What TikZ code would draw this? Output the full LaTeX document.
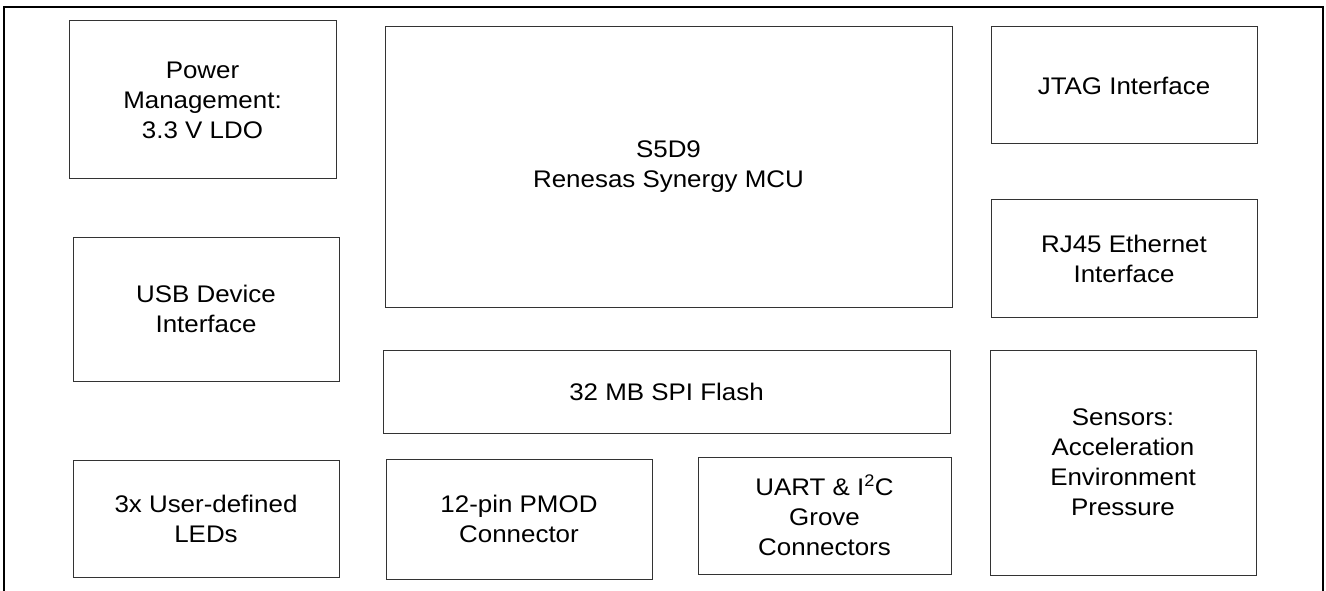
\documentclass[tikz,border=0pt]{standalone}
\usepackage{fontspec}
\setmainfont{Liberation Sans}[FakeStretch=1.08]
\usetikzlibrary{positioning}

\begin{document}
\begin{tikzpicture}[x=1pt,y=-1pt,
	blk/.style={draw=black!80, line width=1pt, inner sep=0pt, outer sep=0pt,
		align=center, font=\fontsize{24}{30}\selectfont},
	frame/.style={draw=black, line width=2pt}]
	\useasboundingbox (0,0) rectangle (1326,591);

	% outer frame, open at the bottom
	\draw[frame] (4,600) -- (4,7) -- (1323,7) -- (1323,600);

	% left column
	\node[blk, minimum width=267pt, minimum height=158pt] (pwr) at (202.5,100)
		{Power\\Management:\\3.3 V LDO};
	\node[blk, minimum width=266pt, minimum height=144pt] (usb) at (206,309)
		{USB Device\\Interface};
	\node[blk, minimum width=266pt, minimum height=117pt] (leds) at (206,518.5)
		{3x User-defined\\LEDs};

	% middle
	\node[blk, minimum width=567pt, minimum height=280pt] (mcu) at (668.5,167)
		{S5D9\\Renesas Synergy MCU};
	\node[blk, minimum width=567pt, minimum height=83pt] (flash) at (666.5,391.5)
		{32 MB SPI Flash};
	\node[blk, minimum width=266pt, minimum height=120pt] (pmod) at (519,519)
		{12-pin PMOD\\Connector};
	\node[blk, minimum width=253pt, minimum height=117pt] (uart) at (824.5,515.5)
		{UART \& I\textsuperscript{2}C\\Grove\\Connectors};

	% right column
	\node[blk, minimum width=266pt, minimum height=117pt] (jtag) at (1124,85.5)
		{JTAG Interface};
	\node[blk, minimum width=266pt, minimum height=117pt] (rj45) at (1124,258.5)
		{RJ45 Ethernet\\Interface};
	\node[blk, minimum width=266pt, minimum height=225pt] (sens) at (1123,462.5)
		{Sensors:\\Acceleration\\Environment\\Pressure};
\end{tikzpicture}
\end{document}
